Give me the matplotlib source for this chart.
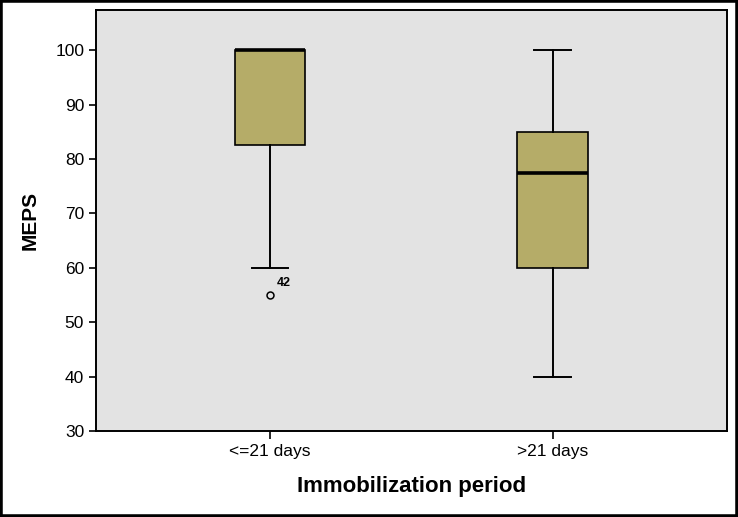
import matplotlib
matplotlib.use("Agg")
import matplotlib.pyplot as plt
from matplotlib.patches import Rectangle

# box statistics
groups = ["<=21 days", ">21 days"]
whislo = [60, 40]
q1 = [82.5, 60]
med = [100, 77.5]
q3 = [100, 85]
whishi = [100, 100]
outliers = [[55], []]
outlier_ids = [["42"], []]

BOX = "#B5AC68"
BG = "#E3E3E3"
plt.rcParams['font.family'] = ['Liberation Sans', 'DejaVu Sans']

fig = plt.figure(figsize=(7.38, 5.17), dpi=100)
ax = fig.add_axes([0.130, 0.166, 0.855, 0.815])
ax.set_facecolor(BG)

stats = [dict(whislo=whislo[i], q1=q1[i], med=med[i], q3=q3[i], whishi=whishi[i],
              fliers=outliers[i], label=groups[i]) for i in range(len(groups))]
ax.bxp(stats, positions=[1, 2], widths=0.25, patch_artist=True,
       boxprops=dict(facecolor=BOX, edgecolor="black", linewidth=1.2),
       medianprops=dict(color="black", linewidth=2.6),
       whiskerprops=dict(color="black", linewidth=1.4),
       capprops=dict(color="black", linewidth=1.4), capwidths=0.13,
       flierprops=dict(marker="o", markersize=5, markerfacecolor="none",
                       markeredgecolor="black", markeredgewidth=1.1))

for i, (vals, ids) in enumerate(zip(outliers, outlier_ids)):
    for v, t in zip(vals, ids):
        ax.text(i + 1 + 0.025, v + 1.2, t, fontsize=9, fontweight="bold", ha="left", va="bottom")

ax.set_xlim(0.384, 2.616)
ax.set_ylim(30, 107.4)
ax.set_yticks(range(30, 101, 10))
ax.set_xticks([1, 2])
ax.set_xticklabels(groups)
ax.tick_params(axis="both", labelsize=12.5, length=5, width=1.2, color="black")
ax.tick_params(axis="x", length=6)
for s in ax.spines.values():
    s.set_linewidth(1.4)
ax.set_ylabel("MEPS", fontsize=15, fontweight="bold", labelpad=11)
ax.set_xlabel("Immobilization period", fontsize=16, fontweight="bold", labelpad=12)

fig.patches.append(Rectangle((0, 0), 1, 1, transform=fig.transFigure, fill=False,
                             edgecolor="black", linewidth=4))
fig.savefig("out.png", dpi=100)
